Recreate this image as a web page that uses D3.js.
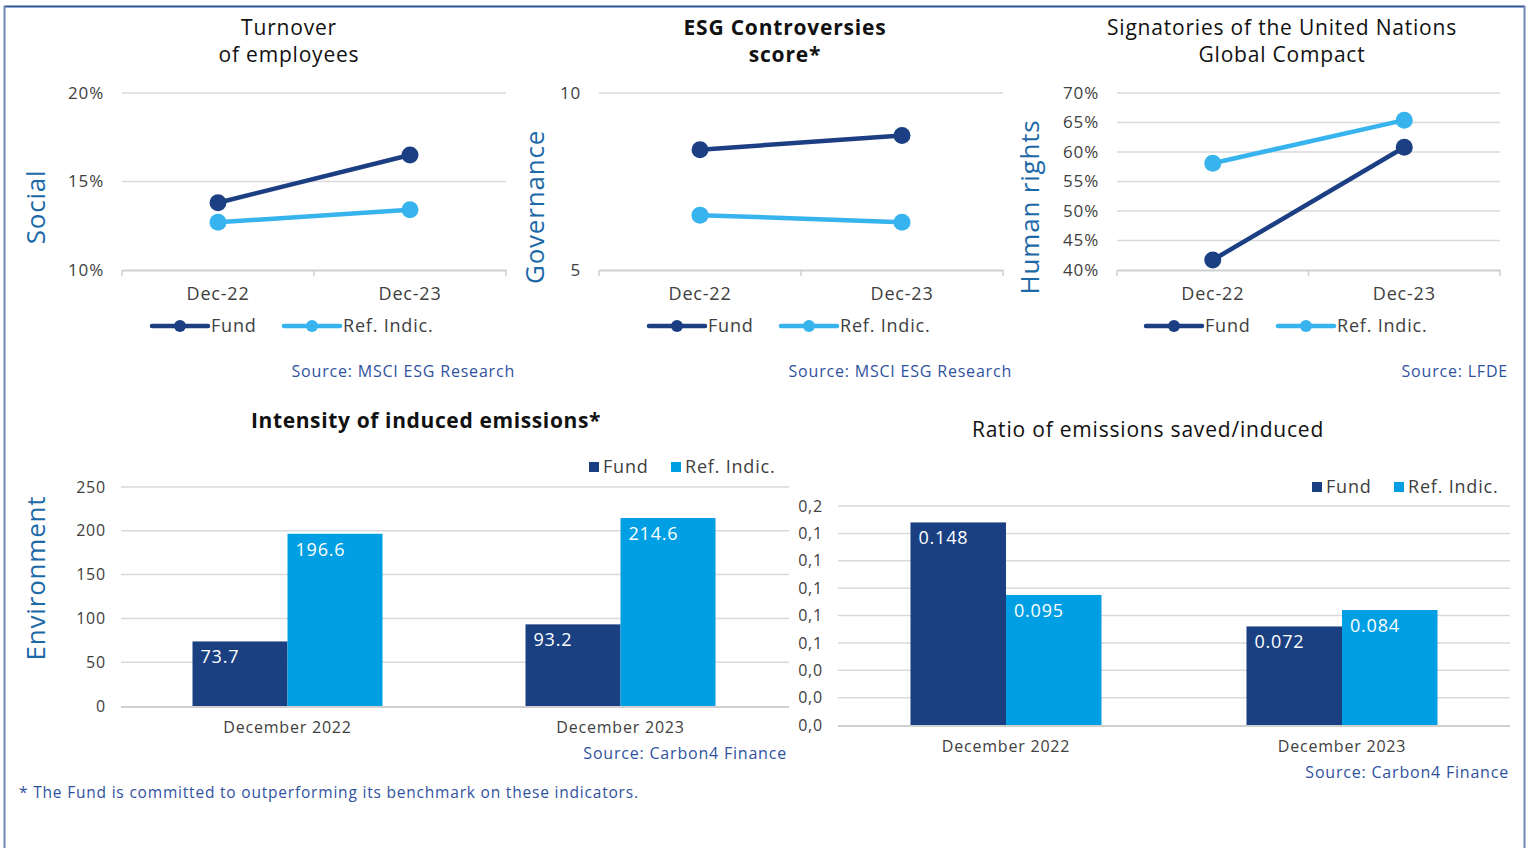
<!DOCTYPE html>
<html>
<head>
<meta charset="utf-8">
<script src="https://cdn.jsdelivr.net/npm/d3@7"></script>
<style>
  html, body { margin: 0; padding: 0; background: #fff; }
  svg { display: block; font-family: "Open Sans", "DejaVu Sans", sans-serif; letter-spacing: 0.05em; }
</style>
</head>
<body>
<svg id="chart" width="1527" height="848"></svg>
<script>
// ---------- DATA ----------
const lineCategories = ["Dec-22", "Dec-23"];
const seriesNames = ["Fund", "Ref. Indic."];

const turnoverFund = [0.138, 0.165];
const turnoverRef = [0.127, 0.134];
const turnoverTicks = [0.10, 0.15, 0.20];

const controversyFund = [8.4, 8.8];
const controversyRef = [6.55, 6.35];
const controversyTicks = [5, 10];

const ungcFund = [0.417, 0.608];
const ungcRef = [0.581, 0.654];
const ungcTicks = [0.40, 0.45, 0.50, 0.55, 0.60, 0.65, 0.70];

const barCategories = ["December 2022", "December 2023"];
const intensityFund = [73.7, 93.2];
const intensityRef = [196.6, 214.6];
const intensityTicks = [0, 50, 100, 150, 200, 250];

const ratioFund = [0.148, 0.072];
const ratioRef = [0.095, 0.084];
const ratioTicks = [0, 0.02, 0.04, 0.06, 0.08, 0.10, 0.12, 0.14, 0.16];

// ---------- STYLE ----------
const C = {
  fundLine: "#1b3f82", refLine: "#37b3ee",
  fundBar: "#1a4082", refBar: "#009fe3",
  grid: "#d9d9d9", axis: "#cfcfcf", tick: "#404040",
  title: "#111", source: "#2f52a0", side: "#1c69a8", frame: "#2e5597"
};

const svg = d3.select("#chart");

// frame
svg.append("line").attr("x1", 4).attr("x2", 1525).attr("y1", 6.5).attr("y2", 6.5)
  .attr("stroke", C.frame).attr("stroke-width", 2);
svg.append("line").attr("x1", 4.5).attr("x2", 4.5).attr("y1", 6).attr("y2", 848)
  .attr("stroke", "#6f88b6").attr("stroke-width", 2);
svg.append("line").attr("x1", 1524.5).attr("x2", 1524.5).attr("y1", 6).attr("y2", 848)
  .attr("stroke", "#6f88b6").attr("stroke-width", 2);

function sideLabel(text, x, y) {
  svg.append("text").attr("transform", `translate(${x},${y}) rotate(-90)`)
    .attr("text-anchor", "middle").attr("dominant-baseline", "middle")
    .attr("fill", C.side).attr("font-size", 26).text(text);
}

function titleLines(lines, cx, y0, bold, size) {
  lines.forEach((t, i) => {
    svg.append("text").attr("x", cx).attr("y", y0 + i * 27)
      .attr("text-anchor", "middle").attr("fill", C.title)
      .attr("font-size", size).attr("font-weight", bold ? 700 : 400).text(t);
  });
}

function sourceText(text, xRight, y) {
  svg.append("text").attr("x", xRight).attr("y", y).attr("text-anchor", "end")
    .attr("fill", C.source).attr("font-size", 16).text(text);
}

function cleanAxis(sel) {
  sel.attr("font-family", null).attr("font-size", null);
}

function lineChart(o) {
  const g = svg.append("g");
  const x = d3.scaleBand().domain(lineCategories).range([o.x0, o.x1]);
  const y = d3.scaleLinear().domain(o.domain).range([270, 93]);

  g.selectAll(".grid").data(o.ticks.slice(1)).join("line")
    .attr("x1", o.x0).attr("x2", o.x1).attr("y1", d => y(d)).attr("y2", d => y(d))
    .attr("stroke", C.grid).attr("stroke-width", 1.5);

  const yAxis = d3.axisLeft(y).tickValues(o.ticks).tickFormat(o.fmt).tickSize(0).tickPadding(0);
  const ya = g.append("g").attr("transform", `translate(${o.x0 - 18},0)`).call(yAxis).call(cleanAxis);
  ya.select(".domain").remove();
  ya.selectAll("text").attr("fill", C.tick).attr("font-size", 17);

  const xAxis = d3.axisBottom(x).tickSize(0).tickPadding(0);
  const xa = g.append("g").attr("transform", `translate(0,270)`).call(xAxis).call(cleanAxis);
  xa.select(".domain").attr("stroke", C.axis).attr("stroke-width", 2);
  xa.selectAll("text").attr("fill", C.tick).attr("font-size", 18)
    .attr("dy", null).attr("y", 30);
  const edges = [o.x0, ...lineCategories.map(c => x(c) + x.bandwidth())];
  g.selectAll(".edge").data(edges).join("line")
    .attr("x1", d => d).attr("x2", d => d).attr("y1", 270).attr("y2", 276)
    .attr("stroke", C.axis).attr("stroke-width", 1.5);

  const series = [
    { vals: o.fund, color: C.fundLine },
    { vals: o.ref, color: C.refLine }
  ];
  const line = d3.line().x((d, i) => x(lineCategories[i]) + x.bandwidth() / 2).y(d => y(d));
  series.forEach(s => {
    g.append("path").datum(s.vals).attr("d", line).attr("fill", "none")
      .attr("stroke", s.color).attr("stroke-width", 4.5);
    g.selectAll(null).data(s.vals).join("circle")
      .attr("cx", (d, i) => x(lineCategories[i]) + x.bandwidth() / 2).attr("cy", d => y(d))
      .attr("r", 8.5).attr("fill", s.color);
  });

  const lg = g.append("g");
  [[o.legX, C.fundLine, seriesNames[0]], [o.legX + 132, C.refLine, seriesNames[1]]].forEach(([lx, col, name]) => {
    lg.append("line").attr("x1", lx).attr("x2", lx + 56).attr("y1", 326).attr("y2", 326)
      .attr("stroke", col).attr("stroke-width", 4.5).attr("stroke-linecap", "round");
    lg.append("circle").attr("cx", lx + 28).attr("cy", 326).attr("r", 6).attr("fill", col);
    lg.append("text").attr("x", lx + 59).attr("y", 332).attr("fill", C.tick)
      .attr("font-size", 18).text(name);
  });

  titleLines(o.title, o.titleX, 35, o.bold, 21);
  sideLabel(o.side, o.sideX, 207);
  sourceText(o.source, o.sourceX, 377);
}

const pct = d3.format(".0%");

lineChart({ x0: 122, x1: 506, domain: [0.10, 0.20], ticks: turnoverTicks, fmt: pct,
  fund: turnoverFund, ref: turnoverRef, legX: 152,
  title: ["Turnover", "of employees"], titleX: 289, bold: false,
  side: "Social", sideX: 38, source: "Source: MSCI ESG Research", sourceX: 515 });

lineChart({ x0: 599, x1: 1003, domain: [5, 10], ticks: controversyTicks, fmt: d3.format("d"),
  fund: controversyFund, ref: controversyRef, legX: 649,
  title: ["ESG Controversies", "score*"], titleX: 785, bold: true,
  side: "Governance", sideX: 537, source: "Source: MSCI ESG Research", sourceX: 1012 });

lineChart({ x0: 1117, x1: 1500, domain: [0.40, 0.70], ticks: ungcTicks, fmt: pct,
  fund: ungcFund, ref: ungcRef, legX: 1146,
  title: ["Signatories of the United Nations", "Global Compact"], titleX: 1282, bold: false,
  side: "Human rights", sideX: 1032, source: "Source: LFDE", sourceX: 1508 });

function barChart(o) {
  const g = svg.append("g");
  const x = d3.scaleBand().domain(barCategories).range([o.x0, o.x1])
    .paddingInner(o.pi).paddingOuter(o.pi / 2);
  const xs = d3.scaleBand().domain(seriesNames).range([0, x.bandwidth()]);
  const y = d3.scaleLinear().domain(o.domain).range([o.yBase, o.yTop]);

  g.selectAll(".grid").data(o.ticks.slice(1)).join("line")
    .attr("x1", o.gx0).attr("x2", o.gx1).attr("y1", d => y(d)).attr("y2", d => y(d))
    .attr("stroke", C.grid).attr("stroke-width", 1.5);

  const yAxis = d3.axisLeft(y).tickValues(o.ticks).tickFormat(o.fmt).tickSize(0).tickPadding(0);
  const ya = g.append("g").attr("transform", `translate(${o.labX},0)`).call(yAxis).call(cleanAxis);
  ya.select(".domain").remove();
  ya.selectAll("text").attr("fill", C.tick).attr("font-size", 16);

  const data = barCategories.map((c, i) => ({ c, vals: [o.fund[i], o.ref[i]] }));
  const cols = [C.fundBar, C.refBar];
  data.forEach(d => {
    d.vals.forEach((v, j) => {
      const bx = x(d.c) + xs(seriesNames[j]);
      g.append("rect").attr("x", bx).attr("y", y(v)).attr("width", xs.bandwidth())
        .attr("height", o.yBase - y(v)).attr("fill", cols[j]);
      g.append("text").attr("x", bx + 8).attr("y", y(v) + 22).attr("fill", "#fff")
        .attr("font-size", 18).text(o.valFmt(v));
    });
  });

  g.append("line").attr("x1", o.gx0).attr("x2", o.gx1).attr("y1", o.yBase + 1).attr("y2", o.yBase + 1)
    .attr("stroke", C.axis).attr("stroke-width", 2);

  const xAxis = d3.axisBottom(x).tickSize(0).tickPadding(0);
  const xa = g.append("g").attr("transform", `translate(0,${o.yBase})`).call(xAxis).call(cleanAxis);
  xa.select(".domain").remove();
  xa.selectAll("text").attr("fill", C.tick).attr("font-size", 16)
    .attr("dy", null).attr("y", 27);

  [[o.legX, C.fundBar, seriesNames[0]], [o.legX + 82, C.refBar, seriesNames[1]]].forEach(([lx, col, name]) => {
    g.append("rect").attr("x", lx).attr("y", o.legY - 5).attr("width", 10).attr("height", 10).attr("fill", col);
    g.append("text").attr("x", lx + 14).attr("y", o.legY + 6).attr("fill", C.tick)
      .attr("font-size", 18).text(name);
  });

  svg.append("text").attr("x", o.titleX).attr("y", o.titleY).attr("text-anchor", "middle")
    .attr("fill", C.title).attr("font-size", 21).attr("font-weight", o.bold ? 700 : 400)
    .attr("letter-spacing", o.bold ? "0.03em" : null).text(o.title);
  sourceText(o.source, o.sourceX, o.sourceY);
}

barChart({ x0: 121, x1: 787, pi: 0.4294, gx0: 121, gx1: 789, domain: [0, 250], yBase: 706, yTop: 487,
  ticks: intensityTicks, fmt: d3.format("d"), labX: 106, fund: intensityFund, ref: intensityRef,
  valFmt: d3.format(".1f"), legX: 589, legY: 467,
  title: "Intensity of induced emissions*", titleX: 426, titleY: 428, bold: true,
  source: "Source: Carbon4 Finance", sourceX: 787, sourceY: 759 });

const commaOne = d => d3.format(".1f")(d).replace(".", ",");
barChart({ x0: 838, x1: 1510, pi: 0.4315, gx0: 838, gx1: 1510, domain: [0, 0.16], yBase: 725, yTop: 506,
  ticks: ratioTicks, fmt: commaOne, labX: 823, fund: ratioFund, ref: ratioRef,
  valFmt: d3.format(".3f"), legX: 1312, legY: 487,
  title: "Ratio of emissions saved/induced", titleX: 1148, titleY: 437, bold: false,
  source: "Source: Carbon4 Finance", sourceX: 1509, sourceY: 778 });

sideLabel("Environment", 38, 578);

svg.append("text").attr("x", 19).attr("y", 798).attr("fill", C.source).attr("font-size", 15.5)
  .text("* The Fund is committed to outperforming its benchmark on these indicators.");
</script>
</body>
</html>
